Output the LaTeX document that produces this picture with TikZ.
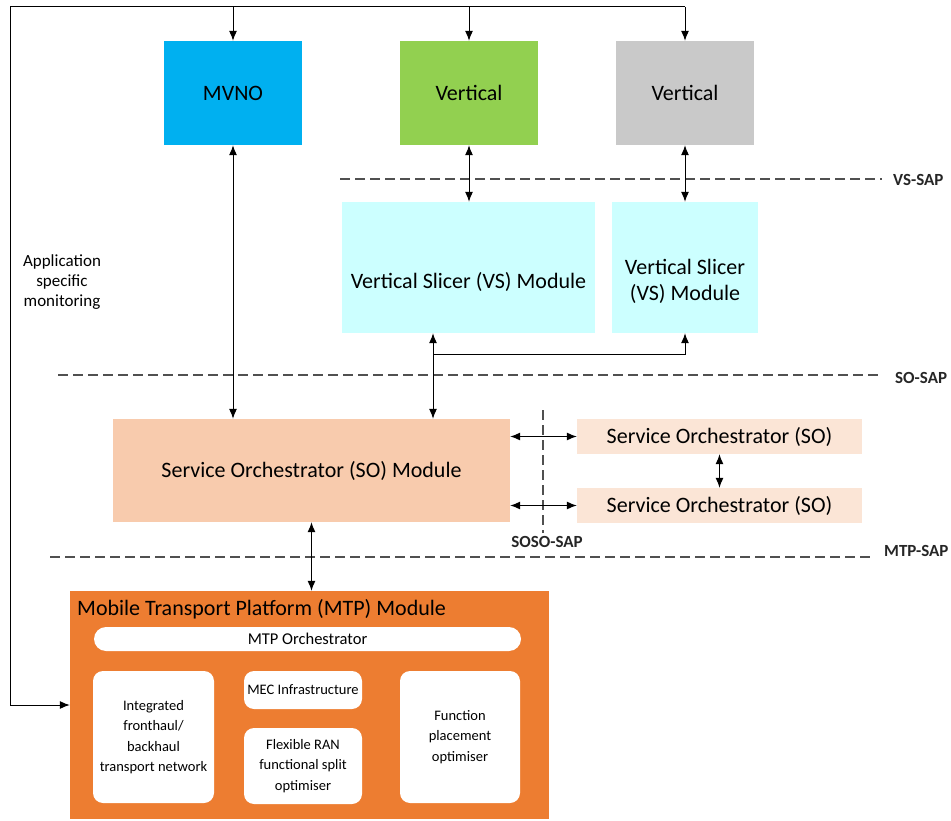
\documentclass[tikz,border=0pt]{standalone}
\usepackage{fontspec}
\setmainfont{Carlito}
\usetikzlibrary{arrows.meta,calc}
\definecolor{mvno}{HTML}{00B0F0}
\definecolor{vgreen}{HTML}{92D050}
\definecolor{vgrey}{HTML}{C9C9C9}
\definecolor{vscyan}{HTML}{CCFFFF}
\definecolor{sodark}{HTML}{F8CBAD}
\definecolor{solight}{HTML}{FBE5D6}
\definecolor{mtporange}{HTML}{ED7D31}
\definecolor{dashgrey}{HTML}{505050}
\tikzset{
  box/.style={inner sep=0pt, anchor=center, align=center, font=\fontsize{22}{26}\selectfont},
  inbox/.style={fill=white, rounded corners=10pt, inner sep=0pt, anchor=center, align=center, font=\fontsize{14.5}{20.5}\selectfont},
  arr/.style={-{Latex[length=10pt,width=8pt]}, line width=1pt},
  darr/.style={{Latex[length=10pt,width=8pt]}-{Latex[length=10pt,width=8pt]}, line width=1pt},
  sap/.style={dash pattern=on 10pt off 5pt, dashgrey, line width=1.2pt},
  saplabel/.style={font=\bfseries\fontsize{17}{20}\selectfont, text=black!85, inner sep=0pt}
}
\begin{document}
\begin{tikzpicture}[x=1pt,y=-1pt]
\useasboundingbox (0,0) rectangle (951,821);
% top boxes
\node[box, fill=mvno, minimum width=138pt, minimum height=104pt] (MVNO) at (233,93) {MVNO};
\node[box, fill=vgreen, minimum width=138pt, minimum height=104pt] (VG) at (469,93) {Vertical};
\node[box, fill=vgrey, minimum width=138pt, minimum height=104pt] (VY) at (685,93) {Vertical};
% VS modules
\node[box, fill=vscyan, minimum width=253pt, minimum height=131pt,
  label={[box, yshift=-14pt]center:Vertical Slicer (VS) Module}] (VS1) at (468.5,267.5) {};
\node[box, fill=vscyan, minimum width=146pt, minimum height=131pt,
  label={[box, yshift=-14pt]center:Vertical Slicer\\(VS) Module}] (VS2) at (685,267.5) {};
% SO
\node[box, fill=sodark, minimum width=397pt, minimum height=103pt] (SO) at (311.5,470.5) {Service Orchestrator (SO) Module};
\node[box, fill=solight, minimum width=285pt, minimum height=35pt] (SO1) at (719.5,436.5) {Service Orchestrator (SO)};
\node[box, fill=solight, minimum width=285pt, minimum height=35pt] (SO2) at (719.5,505.5) {Service Orchestrator (SO)};
% MTP
\node[fill=mtporange, minimum width=479pt, minimum height=228pt, inner sep=0pt] (MTP) at (309.5,705) {};
\node[anchor=west, inner sep=0pt, font=\fontsize{22}{26}\selectfont] (MTPt) at (77,609) {Mobile Transport Platform (MTP) Module};
\node[inbox, rounded corners=12pt, minimum width=427pt, minimum height=24pt, font=\fontsize{16.5}{20}\selectfont] (MTPO) at (307.5,639) {MTP Orchestrator};
\node[inbox, minimum width=121pt, minimum height=132pt] (INT) at (153.5,737) {Integrated\\fronthaul/\\backhaul\\transport network};
\node[inbox, minimum width=118pt, minimum height=38pt] (MEC) at (303,690) {MEC Infrastructure};
\node[inbox, minimum width=118pt, minimum height=76pt] (FLX) at (303,766) {Flexible RAN\\functional split\\optimiser};
\node[inbox, minimum width=120pt, minimum height=132pt] (FPO) at (460,737) {Function\\placement\\optimiser};
% monitoring feedback
\coordinate (tl) at (10,7);
\coordinate (tr) at (685,7);
\coordinate (bl) at (10,705);
\draw[arr] (tr) -- (tl) -- (bl) -- (MTP.west);
\draw[arr] (MVNO.north |- tl) -- (MVNO.north);
\draw[arr] (VG.north |- tl) -- (VG.north);
\draw[arr] (VY.north |- tl) -- (VY.north);
\node[align=center, inner sep=0pt, font=\fontsize{17}{20}\selectfont] (mon) at (62,282) {Application\\specific\\monitoring};
% SAP lines
\coordinate (vs1) at (340,179); \coordinate (vs2) at (882,179);
\draw[sap] (vs1) -- (vs2);
\node[saplabel, anchor=west] (vsl) at (893,180) {VS-SAP};
\coordinate (so1) at (58,375); \coordinate (so2) at (882,375);
\draw[sap] (so1) -- (so2);
\node[saplabel, anchor=west] (sol) at (895,378) {SO-SAP};
\coordinate (mt1) at (50,557); \coordinate (mt2) at (872,557);
\draw[sap] (mt1) -- (mt2);
\node[saplabel, anchor=west] (mtl) at (884,551) {MTP-SAP};
\coordinate (ss1) at (543,410); \coordinate (ss2) at (543,533);
\draw[sap] (ss1) -- (ss2);
\node[saplabel] (ssl) at (547,542) {SOSO-SAP};
% connectors
\draw[darr] (MVNO.south) -- (MVNO.south |- SO.north);
\draw[darr] (VG.south) -- (VG.south |- VS1.north);
\draw[darr] (VY.south) -- (VY.south |- VS2.north);
\coordinate (vx) at (433,354);
\draw[darr] (VS1.south -| vx) -- (SO.north -| vx);
\draw[arr] (vx) -| (VS2.south);
\draw[darr] (SO.east |- SO1.west) -- (SO1.west);
\draw[darr] (SO.east |- SO2.west) -- (SO2.west);
\draw[darr] (SO1.south) -- (SO2.north);
\draw[darr] (SO.south) -- (SO.south |- MTP.north);
\end{tikzpicture}
\end{document}
